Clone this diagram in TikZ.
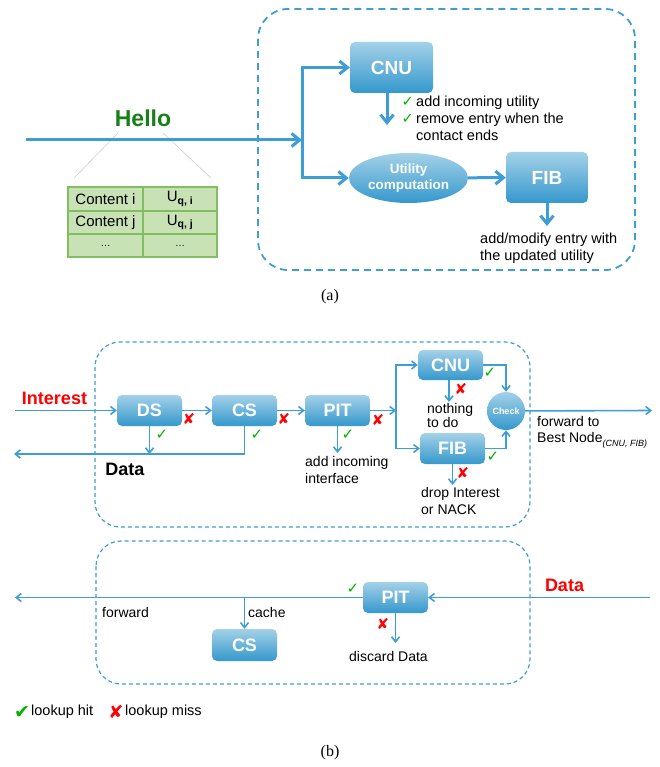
\documentclass[tikz,border=0pt]{standalone}
\usepackage{fontspec}
\setmainfont{Liberation Sans}
\newfontfamily\capfont{Liberation Serif}
\newfontfamily\symfont{DejaVu Sans}
\usetikzlibrary{arrows.meta,shapes.geometric,positioning}
\definecolor{boxblue}{RGB}{52,152,204}
\definecolor{lineblue}{RGB}{62,157,213}
\definecolor{hellogreen}{RGB}{22,128,22}
\definecolor{tabfill}{RGB}{200,226,182}
\definecolor{tabline}{RGB}{128,190,96}
\newcommand{\fsz}[2]{\fontsize{#1}{#2}\selectfont}
\newcommand{\hit}{{\symfont\color{green!70!black}✓}}
\newcommand{\miss}{{\symfont\color{red}✘}}
\begin{document}
\begin{tikzpicture}[x=1pt,y=-1pt,
  glossy/.style={top color=boxblue!45!white,middle color=boxblue,bottom color=boxblue,text=white},
  bx/.style={glossy,rounded corners=5pt,minimum width=65pt,minimum height=31pt,inner sep=0pt,font=\bfseries\fsz{18}{18}},
  thk/.style={lineblue,line width=3pt,-{Straight Barb[length=8pt,width=13pt]}},
  thn/.style={lineblue,line width=1.6pt,-{Straight Barb[length=5pt,width=8pt]}},
  dashbox/.style={lineblue,dashed,rounded corners=#1},
  note/.style={inner sep=0pt,align=left,anchor=north west,font=\fsz{14}{17}},
  cell/.style={font=\fsz{15}{15}},
  sign/.style={inner sep=0pt,font=\fsz{15}{15}}]
\useasboundingbox (0,0) rectangle (659,767);
% (a)
\draw[dashbox=30pt,line width=1.8pt,dash pattern=on 7pt off 5pt] (258,9) rectangle (635,270);
\node[font=\bfseries\fsz{23}{23},text=hellogreen] (hello) at (143,118) {Hello};
\fill[tabfill] (68,187) rectangle (217,257);
\draw[tabline,line width=1.2pt] (68,187) rectangle (217,257) (143,187) -- (143,257) (68,211) -- (217,211) (68,234) -- (217,234);
\node[cell] (conti) at (105.5,199) {Content i};
\node[cell] (utili) at (180,199) {U\textsubscript{\bfseries q, i}};
\node[cell] (contj) at (105.5,222.5) {Content j};
\node[cell] (utilj) at (180,222.5) {U\textsubscript{\bfseries q, j}};
\node[font=\fsz{10}{10}] (contk) at (105.5,245.5) {…};
\node[font=\fsz{10}{10}] (utilk) at (180,245.5) {…};
\coordinate (tabl) at (74,178);
\coordinate (tabr) at (211,178);
\draw[gray!40,line width=0.6pt] ([shift={(-25,15)}]hello.center) -- (tabl) ([shift={(20,15)}]hello.center) -- (tabr);
\node[bx,minimum width=83pt,minimum height=51pt,font=\bfseries\fsz{19}{19}] (cnua) at (391.5,67.5) {CNU};
\node[glossy,ellipse,minimum width=119pt,minimum height=50pt,inner sep=0pt,align=center,font=\bfseries\fsz{13.5}{16}] (util) at (408.5,178) {Utility\\computation};
\node[bx,minimum width=82pt,minimum height=51pt,font=\bfseries\fsz{19}{19}] (fiba) at (547,177.5) {FIB};
\coordinate (hin) at (26,140);
\coordinate (hsplit) at (302,140);
\draw[thk] (hin) -- (hsplit);
\draw[thk] (hsplit |- util) |- (cnua);
\draw[thk] (hsplit) |- (util);
\draw[thk] (util) -- (fiba);
\coordinate (cnuend) at (387,125);
\draw[thk] (cnua.south -| cnuend) -- (cnuend);
\node[note,font=\fsz{14.5}{17}] (cnunote) at (416,96) {\llap{\hit\,}add incoming utility\\\llap{\hit\,}remove entry when the\\contact ends};
\coordinate (fibend) at (547,226);
\draw[thk] (fiba) -- (fibend);
\node[note,font=\fsz{14.5}{17}] (fibnote) at (480,233) {add/modify entry with\\the updated utility};
\node[font=\capfont\fsz{16}{16}] (capa) at (330,297) {(a)};
% (b) interest
\draw[dashbox=25pt,line width=1.2pt,dash pattern=on 4pt off 3pt] (95,342) rectangle (530,527);
\node[font=\bfseries\fsz{18}{18},text=red] (interest) at (54.5,398) {Interest};
\node[bx] (ds) at (149.5,410.5) {DS};
\node[bx] (csi) at (244.5,410.5) {CS};
\node[bx] (piti) at (337.5,410.5) {PIT};
\node[bx,minimum height=30pt] (cnub) at (450.5,365) {CNU};
\node[bx] (fibb) at (452.5,448.5) {FIB};
\node[glossy,circle,minimum size=38pt,inner sep=0pt,font=\bfseries\fsz{9}{9}] (check) at (506,411) {Check};
\coordinate (intin) at (15,410.5);
\coordinate (dataout) at (14,454);
\coordinate (isplit) at (396,410.5);
\coordinate (fwdout) at (652,410.5);
\draw[thn] (intin) -- (ds);
\draw[thn] (ds) -- (csi);
\draw[thn] (csi) -- (piti);
\draw[thn] (csi.south) |- (dataout);
\draw[thn] (ds) -- (ds |- dataout);
\node[font=\bfseries\fsz{18}{18}] (datab) at (125,469) {Data};
\draw[thn] (piti) -- (isplit);
\draw[thn] (isplit |- fibb) |- (cnub);
\draw[thn] (isplit) |- (fibb);
\draw[thn] (cnub.east) -| (check.north);
\draw[thn] (fibb.east) -| (check.south);
\draw[thn] (check) -- (fwdout);
\coordinate (pitend) at (337.5,453);
\draw[thn] (piti) -- (pitend);
\node[note] (addnote) at (305,456) {add incoming\\interface};
\coordinate (cnubend) at (449,402);
\draw[thn] (cnub.south -| cnubend) -- (cnubend);
\node[note,font=\fsz{14}{14}] (nonote) at (427,403) {nothing\\to do};
\coordinate (fibbend) at (452.5,485);
\draw[thn] (fibb) -- (fibbend);
\node[note] (dropnote) at (421,487.5) {drop Interest\\or NACK};
\node[note,font=\fsz{14}{16}] (fwdnote) at (537,416.5) {forward to\\Best Node\raisebox{-4pt}{\fsz{9}{9}\itshape (CNU, FIB)}};
\node[sign] (hitds) at (162,435) {\hit};
\node[sign] (missds) at (189,419) {\miss};
\node[sign] (hitcs) at (257,435) {\hit};
\node[sign] (misscs) at (284,419) {\miss};
\node[sign] (hitpit) at (348,435) {\hit};
\node[sign] (misspit) at (378,420) {\miss};
\node[sign] (hitcnu) at (490,373) {\hit};
\node[sign] (misscnu) at (461,389) {\miss};
\node[sign] (hitfib) at (493,457) {\hit};
\node[sign] (missfib) at (463,473) {\miss};
% (b) data
\draw[dashbox=25pt,line width=1.2pt,dash pattern=on 4pt off 3pt] (96,541) rectangle (530,684);
\node[bx] (pito) at (395.5,597.5) {PIT};
\node[bx,minimum height=32pt] (cso) at (244.5,645) {CS};
\node[font=\bfseries\fsz{18}{18},text=red] (datac) at (564.5,585) {Data};
\coordinate (dright) at (650,597.5);
\coordinate (dleft) at (15,597.5);
\draw[thn] (dright) -- (pito);
\draw[thn] (pito) -- (dleft);
\draw[thn] (cso |- dleft) -- (cso);
\node[note,anchor=west] (cachenote) at (248,612) {cache};
\node[note,anchor=west] (fwdnote2) at (102,612) {forward};
\coordinate (pitoend) at (395.5,643);
\draw[thn] (pito) -- (pitoend);
\node[font=\fsz{14}{14}] (discard) at (388.5,656) {discard Data};
\node[sign] (hitpito) at (353,589) {\hit};
\node[sign] (misspito) at (383,624) {\miss};
% legend
\node[sign,font=\fsz{19}{19}] (leghit) at (22,712) {{\symfont\color{green!70!black}✔}};
\node[note,anchor=west,font=\fsz{14.5}{14.5}] (leghittxt) at (31,712) {lookup hit};
\node[sign,font=\fsz{18}{18}] (legmiss) at (116,712) {\miss};
\node[note,anchor=west,font=\fsz{14.5}{14.5}] (legmisstxt) at (125,712) {lookup miss};
\node[font=\capfont\fsz{16}{16}] (capb) at (330,753) {(b)};
\end{tikzpicture}
\end{document}
